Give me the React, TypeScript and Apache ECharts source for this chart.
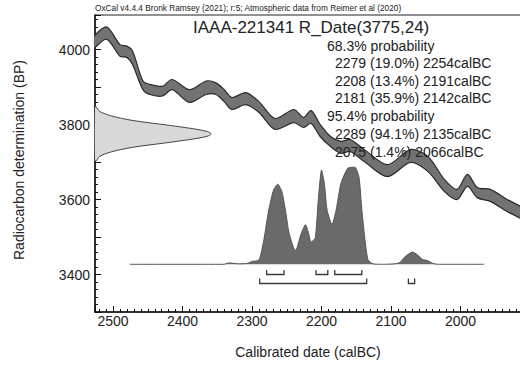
import React, { useEffect, useRef } from 'react';
import * as echarts from 'echarts';

// ---------- data ----------
const HEADER = 'OxCal v4.4.4 Bronk Ramsey (2021); r:5; Atmospheric data from Reimer et al (2020)';
const SAMPLE_ID = 'IAAA-221341';
const C14_AGE = 3775;
const C14_ERR = 24;

// calibration curve band (calBC, upper BP, lower BP)
const CURVE_YEARS = [2526, 2509, 2490, 2480, 2472, 2457, 2447, 2429, 2415, 2390, 2366, 2352, 2340, 2329, 2309, 2290, 2267, 2240, 2226, 2215, 2202, 2187, 2172, 2159, 2137, 2105, 2072, 2047, 2023, 2005, 1990, 1976, 1957, 1933, 1919, 1900];
const CURVE_UPPER = [4038, 4060, 4013, 4009, 3996, 3916, 3907, 3902, 3920, 3893, 3916, 3911, 3893, 3872, 3885, 3861, 3816, 3840, 3819, 3837, 3800, 3768, 3755, 3760, 3731, 3693, 3733, 3715, 3653, 3627, 3667, 3632, 3627, 3600, 3587, 3568];
const CURVE_LOWER = [4005, 4027, 3982, 3979, 3960, 3893, 3880, 3876, 3893, 3859, 3880, 3880, 3861, 3840, 3853, 3832, 3787, 3805, 3792, 3803, 3768, 3741, 3723, 3728, 3699, 3661, 3699, 3675, 3621, 3600, 3635, 3605, 3595, 3568, 3555, 3536];

// radiocarbon measurement distribution (BP, relative density)
const GAUSS_BP = [3847, 3835, 3823, 3811, 3799, 3793, 3787, 3781, 3775, 3769, 3763, 3757, 3751, 3739, 3727, 3715, 3703];
const GAUSS_DENSITY = [0.01, 0.04, 0.14, 0.32, 0.61, 0.75, 0.88, 0.97, 1, 0.97, 0.88, 0.75, 0.61, 0.32, 0.14, 0.04, 0.01];

// calibrated probability distribution (calBC, relative density)
const DIST_YEARS = [2476, 2340, 2336, 2332, 2326, 2319, 2307, 2300, 2290, 2283, 2276, 2269, 2263, 2257, 2252, 2247, 2240, 2237, 2230, 2223, 2219, 2215, 2209, 2205, 2200, 2196, 2192, 2185, 2179, 2172, 2162, 2152, 2146, 2142, 2137, 2133, 2126, 2112, 2095, 2087, 2080, 2069, 2062, 2055, 2047, 2040, 2033, 1966];
const DIST_VALUES = [0, 0, 0.01, 0.015, 0.01, 0.005, 0.01, 0.03, 0.045, 0.26, 0.575, 0.79, 0.85, 0.77, 0.575, 0.34, 0.17, 0.15, 0.31, 0.42, 0.34, 0.235, 0.28, 0.65, 1.0, 0.86, 0.575, 0.42, 0.575, 0.86, 1.02, 1.03, 0.92, 0.575, 0.23, 0.045, 0.005, 0, 0.005, 0.02, 0.08, 0.13, 0.1, 0.053, 0.038, 0.01, 0, 0];

// ranges
const RANGE68_FROM = [2279, 2208, 2181];
const RANGE68_TO = [2254, 2191, 2142];
const RANGE68_PCT = [19.0, 13.4, 35.9];
const RANGE95_FROM = [2289, 2075];
const RANGE95_TO = [2135, 2066];
const RANGE95_PCT = [94.1, 1.4];

// ---------- layout / style ----------
const X_MIN = 1900;
const X_MAX = 2526;
const Y_MIN = 3300;
const Y_MAX = 4092;
const GAUSS_SCALE = 167; // years of width at peak of measurement curve
const ROW_BP = [3400, 3376];
const ROW_TICK = [4.5, 5];
const FONT = '"Liberation Sans", Arial, Helvetica, sans-serif';
const TEXT = '#222';
const CHART_W = 533; // plot continues past the visible right edge
const VIEW_W = 520;
const VIEW_H = 365;

const rangeLine = (f: number, p: number, t: number) => `${f} (${p.toFixed(1)}%) ${t}calBC`;

function txt(text: string, x: number, y: number, size: number, align = 'left', extra: any = {}) {
  return {
    type: 'text',
    x,
    y,
    silent: true,
    z: 100,
    ...extra,
    style: {
      text,
      x: 0,
      y: 0,
      fontSize: size,
      fontFamily: FONT,
      fill: TEXT,
      align,
      verticalAlign: 'middle',
      textAlign: align,
      textVerticalAlign: 'middle',
    },
  };
}

export default function App() {
  const ref = useRef<HTMLDivElement>(null);

  useEffect(() => {
    if (!ref.current) return;
    const chart = echarts.init(ref.current, null, { renderer: 'svg' });

    const band = CURVE_YEARS.map((y, i) => [y, CURVE_UPPER[i], CURVE_LOWER[i]]);
    const gauss = GAUSS_BP.map((b, i) => [GAUSS_DENSITY[i], b]);
    const dist = DIST_YEARS.map((y, i) => [y, DIST_VALUES[i]]);
    const brackets = [
      ...RANGE68_FROM.map((f, i) => [f, RANGE68_TO[i], 0]),
      ...RANGE95_FROM.map((f, i) => [f, RANGE95_TO[i], 1]),
    ];

    const option: any = {
      animation: false,
      grid: { left: 95, right: 0, top: 15, bottom: 53, show: true, borderColor: '#222', borderWidth: 1, backgroundColor: 'transparent' },
      xAxis: [
        {
          type: 'value',
          inverse: true,
          min: X_MIN,
          max: X_MAX,
          interval: 100,
          splitLine: { show: false },
          axisLine: { show: true, onZero: false, lineStyle: { color: '#111', width: 1.5 } },
          axisTick: { show: true, inside: true, length: 6, lineStyle: { color: '#111', width: 1 } },
          axisLabel: {
            margin: 2,
            fontSize: 14,
            fontFamily: FONT,
            color: TEXT,
            formatter: (v: number) => (v % 100 === 0 && v >= 2000 && v <= 2500 ? String(v) : ''),
          },
        },
        {
          type: 'value',
          inverse: true,
          min: X_MIN,
          max: X_MAX,
          interval: 10,
          position: 'bottom',
          splitLine: { show: false },
          axisLine: { show: false, onZero: false },
          axisTick: { show: true, inside: true, length: 3, lineStyle: { color: '#111', width: 1 } },
          axisLabel: { show: false },
        },
      ],
      yAxis: [
        {
          type: 'value',
          min: Y_MIN,
          max: Y_MAX,
          interval: 100,
          position: 'left',
          splitLine: { show: false },
          axisLine: { show: true, onZero: false, lineStyle: { color: '#111', width: 1.5 } },
          axisTick: { show: true, inside: true, length: 6, lineStyle: { color: '#111', width: 1 } },
          axisLabel: {
            margin: 5,
            fontSize: 14,
            fontFamily: FONT,
            color: TEXT,
            formatter: (v: number) => (v % 200 === 0 ? String(v) : ''),
          },
        },
        { type: 'value', show: false, min: -0.506, max: 2.644, splitLine: { show: false } },
        {
          type: 'value',
          min: Y_MIN,
          max: Y_MAX,
          interval: 20,
          position: 'left',
          offset: 0,
          splitLine: { show: false },
          axisLine: { show: false, onZero: false },
          axisTick: { show: true, inside: true, length: 3, lineStyle: { color: '#111', width: 1 } },
          axisLabel: { show: false },
        },
      ],
      series: [
        {
          type: 'custom',
          name: 'measurement',
          xAxisIndex: 0,
          yAxisIndex: 0,
          data: gauss,
          encode: { x: 0, y: 1 },
          renderItem: (params: any, api: any) => {
            if (params.dataIndexInside !== 0) return null;
            const n = params.dataInsideLength;
            const pts: number[][] = [];
            for (let i = 0; i < n; i++) {
              pts.push(api.coord([X_MAX - api.value(0, i) * GAUSS_SCALE, api.value(1, i)]));
            }
            const start = api.coord([X_MAX, api.value(1, 0)]);
            const end = api.coord([X_MAX, api.value(1, n - 1)]);
            return {
              type: 'group',
              children: [
                { type: 'polygon', shape: { points: [start, ...pts, end], smooth: 0.3 }, style: { fill: '#d9d9d9', stroke: 'none' } },
                { type: 'polyline', shape: { points: [start, ...pts, end], smooth: 0.3 }, style: { fill: 'none', stroke: '#444', lineWidth: 1 } },
              ],
            };
          },
        },
        {
          type: 'custom',
          name: 'curve',
          xAxisIndex: 0,
          yAxisIndex: 0,
          data: band,
          encode: { x: 0, y: [1, 2] },
          renderItem: (params: any, api: any) => {
            if (params.dataIndexInside !== 0) return null;
            const n = params.dataInsideLength;
            const up: number[][] = [];
            const lo: number[][] = [];
            for (let i = 0; i < n; i++) {
              up.push(api.coord([api.value(0, i), api.value(1, i)]));
              lo.push(api.coord([api.value(0, i), api.value(2, i)]));
            }
            return {
              type: 'group',
              children: [
                { type: 'polygon', shape: { points: up.concat(lo.slice().reverse()), smooth: 0.3 }, style: { fill: '#727272', stroke: 'none' } },
                { type: 'polyline', shape: { points: up, smooth: 0.3 }, style: { fill: 'none', stroke: '#2a2a2a', lineWidth: 1.2 } },
                { type: 'polyline', shape: { points: lo, smooth: 0.3 }, style: { fill: 'none', stroke: '#2a2a2a', lineWidth: 1.2 } },
              ],
            };
          },
        },
        {
          type: 'line',
          name: 'posterior',
          xAxisIndex: 0,
          yAxisIndex: 1,
          data: dist,
          symbol: 'none',
          smooth: 0.2,
          lineStyle: { color: '#555', width: 1 },
          areaStyle: { color: '#6a6a6a', opacity: 1 },
        },
        {
          type: 'custom',
          name: 'ranges',
          xAxisIndex: 0,
          yAxisIndex: 0,
          data: brackets,
          encode: { x: [0, 1] },
          renderItem: (params: any, api: any) => {
            const row = api.value(2);
            const a = api.coord([api.value(0), ROW_BP[row]]);
            const b = api.coord([api.value(1), ROW_BP[row]]);
            const t = ROW_TICK[row];
            return {
              type: 'polyline',
              shape: { points: [[a[0], a[1] - t], a, b, [b[0], b[1] - t]] },
              style: { fill: 'none', stroke: '#3a3a3a', lineWidth: 1.3 },
            };
          },
        },
      ],
      graphic: [
        txt(HEADER, 95, 8, 8.3),
        txt(`${SAMPLE_ID} R_Date(${C14_AGE},${C14_ERR})`, 193, 27, 17),
        txt('68.3% probability', 327, 46, 14),
        ...RANGE68_FROM.map((f, i) => txt(rangeLine(f, RANGE68_PCT[i], RANGE68_TO[i]), 335, 63 + i * 17.6, 14)),
        txt('95.4% probability', 327, 116, 14),
        ...RANGE95_FROM.map((f, i) => txt(rangeLine(f, RANGE95_PCT[i], RANGE95_TO[i]), 335, 134 + i * 17.6, 14)),
        txt('Calibrated date (calBC)', 308, 352, 14, 'center'),
        txt('Radiocarbon determination (BP)', 19, 160, 14, 'center', { rotation: Math.PI / 2 }),
      ],
    };

    chart.setOption(option);
    return () => chart.dispose();
  }, []);

  return (
    <div style={{ position: 'absolute', left: 0, top: 0, width: VIEW_W, height: VIEW_H, overflow: 'hidden', background: '#fff' }}>
      <div ref={ref} style={{ width: CHART_W, height: VIEW_H }} />
    </div>
  );
}
